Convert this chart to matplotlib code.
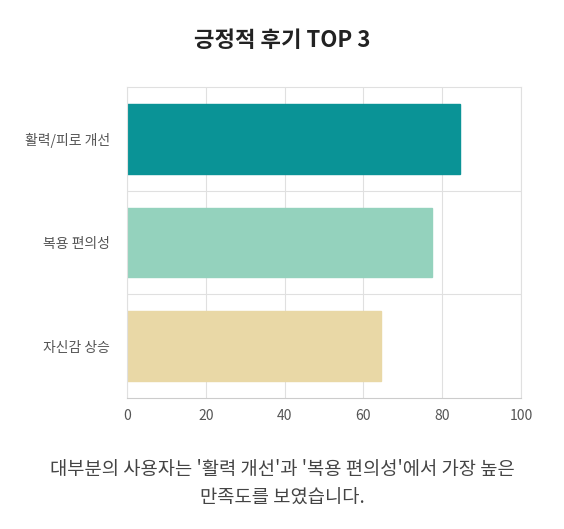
import matplotlib
matplotlib.use("Agg")
import matplotlib.pyplot as plt

plt.rcParams['font.family'] = ['Noto Sans CJK KR', 'DejaVu Sans']

categories = ['활력/피로 개선', '복용 편의성', '자신감 상승']
values = [84.5, 77.5, 64.5]
colors = ['#0a9396', '#94d2bd', '#e9d8a6']
xticks = [0, 20, 40, 60, 80, 100]

fig = plt.figure(figsize=(5.64, 5.29), dpi=100)
ax = fig.add_axes([127/564, 1-398/529, (521-127)/564, (398-87)/529])
ax.barh(range(len(categories)), values, color=colors, height=0.67, edgecolor=colors, zorder=2)
ax.set_ylim(2.5, -0.5)
ax.set_xlim(0, 100)
ax.set_xticks(xticks)
ax.set_yticks(range(len(categories)))
ax.set_yticklabels(categories)
ax.set_yticks([0.5, 1.5], minor=True)
ax.grid(True, axis='x', color='#e0e0e0', lw=0.8, zorder=0)
ax.grid(True, axis='y', which='minor', color='#e0e0e0', lw=0.8, zorder=0)
ax.tick_params(axis='both', which='both', length=0, colors='#555555', labelsize=10)
ax.tick_params(axis='x', pad=8)
ax.tick_params(axis='y', pad=12)
for s in ['top', 'right']:
    ax.spines[s].set_color('#e0e0e0')
ax.spines['left'].set_color('#e0e0e0')
ax.spines['bottom'].set_color('#cccccc')

fig.text(0.5, 1-40/529, '긍정적 후기 TOP 3', ha='center', va='center', fontsize=16, fontweight='bold', color='#222222')
fig.text(0.5, 1-484/529, "대부분의 사용자는 '활력 개선'과 '복용 편의성'에서 가장 높은\n만족도를 보였습니다.",
         ha='center', va='center', fontsize=13.5, color='#444444', linespacing=1.45)
fig.savefig('out.png', dpi=100)
